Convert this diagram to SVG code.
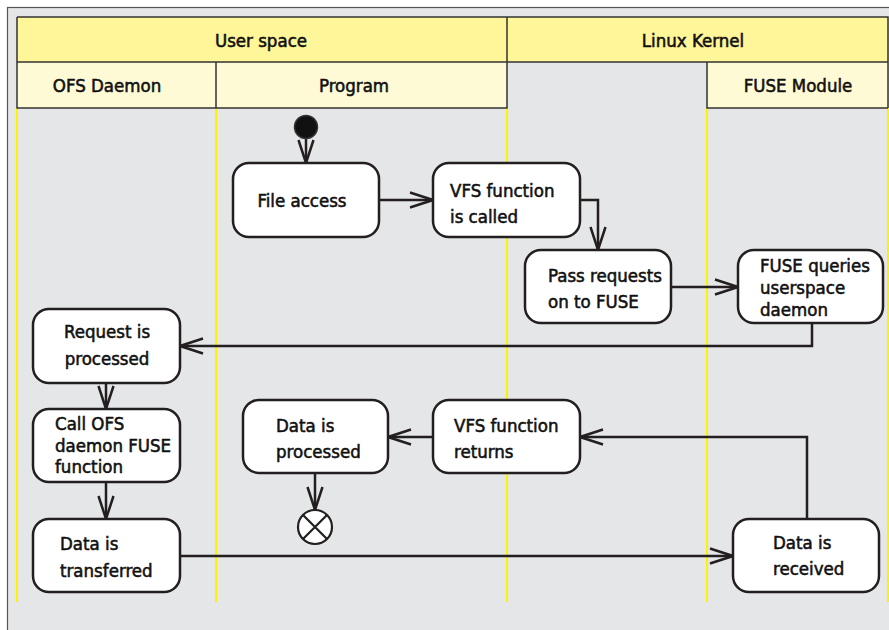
<svg xmlns="http://www.w3.org/2000/svg" width="889" height="630" viewBox="0 0 889 630">
<defs>
<marker id="arr" viewBox="0 0 26 18" refX="24" refY="9" markerWidth="26" markerHeight="18" markerUnits="userSpaceOnUse" orient="auto">
<path d="M1,1.5 L24,9 L1,16.5" fill="none" stroke="#231f20" stroke-width="2.5"/>
</marker>
<style>
.t{font-family:"DejaVu Sans Condensed","DejaVu Sans",sans-serif;font-stretch:condensed;font-size:18.5px;fill:#111;stroke:#111;stroke-width:0.55}
.h{font-family:"DejaVu Sans Condensed","DejaVu Sans",sans-serif;font-stretch:condensed;font-size:18.5px;fill:#111;stroke:#111;stroke-width:0.55;text-anchor:middle}
.m{text-anchor:middle}
.box{fill:#fff;stroke:#231f20;stroke-width:2.5}
.lane{stroke:#fff200;stroke-width:2}
.hl{stroke:#333;stroke-width:1.5;fill:none}
.c{fill:none;stroke:#231f20;stroke-width:2.5}
</style>
</defs>
<rect x="7.5" y="7.5" width="890" height="630" fill="#e5e6e8" stroke="#555" stroke-width="1.2"/>
<g id="lanes">
<line class="lane" x1="17" y1="108" x2="17" y2="602"/>
<line class="lane" x1="216" y1="108" x2="216" y2="602"/>
<line class="lane" x1="507" y1="108" x2="507" y2="602"/>
<line class="lane" x1="707" y1="108" x2="707" y2="602"/>
<line class="lane" x1="888" y1="108" x2="888" y2="602"/>
</g>
<g id="header">
<rect x="17" y="17" width="871" height="45" fill="#fff599"/>
<rect x="17" y="62" width="490" height="46" fill="#fffad6"/>
<rect x="707" y="62" width="181" height="46" fill="#fffad6"/>
<path class="hl" d="M17,17 H888 V108 M17,17 V108 H507 V62 M17,62 H888 M507,17 V62 M216,62 V108 M707,62 V108 H888"/>
<text class="h" x="261" y="47">User space</text>
<text class="h" x="693" y="47">Linux Kernel</text>
<text class="h" x="107" y="92">OFS Daemon</text>
<text class="h" x="354" y="92">Program</text>
<text class="h" x="798" y="92">FUSE Module</text>
</g>
<g id="connectors">
<line class="c" x1="306" y1="127" x2="306" y2="163" marker-end="url(#arr)"/>
<line class="c" x1="379" y1="200" x2="433" y2="200" marker-end="url(#arr)"/>
<polyline class="c" points="580,200 598,200 598,250" marker-end="url(#arr)"/>
<line class="c" x1="671" y1="287" x2="738" y2="287" marker-end="url(#arr)"/>
<polyline class="c" points="812,323 812,346 180,346" marker-end="url(#arr)"/>
<line class="c" x1="106" y1="383" x2="106" y2="409" marker-end="url(#arr)"/>
<line class="c" x1="106" y1="482" x2="106" y2="519" marker-end="url(#arr)"/>
<line class="c" x1="180" y1="556" x2="733" y2="556" marker-end="url(#arr)"/>
<polyline class="c" points="807,519 807,437 580,437" marker-end="url(#arr)"/>
<line class="c" x1="433" y1="437" x2="388" y2="437" marker-end="url(#arr)"/>
<line class="c" x1="315" y1="473" x2="315" y2="510" marker-end="url(#arr)"/>
</g>
<g id="start">
<circle cx="306" cy="127" r="11.5" fill="#111" stroke="#333" stroke-width="1.5"/>
</g>
<g id="file-access">
<rect class="box" x="233" y="163" width="146" height="74" rx="16"/>
<text class="t m" x="302" y="207">File access</text>
</g>
<g id="vfs-called">
<rect class="box" x="433" y="163" width="147" height="74" rx="16"/>
<text class="t" x="450" y="197">VFS function</text>
<text class="t" x="450" y="223">is called</text>
</g>
<g id="pass-requests">
<rect class="box" x="525" y="250" width="146" height="73" rx="16"/>
<text class="t" x="548" y="282">Pass requests</text>
<text class="t" x="548" y="308">on to FUSE</text>
</g>
<g id="fuse-queries">
<rect class="box" x="738" y="250" width="145" height="73" rx="16"/>
<text class="t" x="760" y="272">FUSE queries</text>
<text class="t" x="760" y="294">userspace</text>
<text class="t" x="760" y="316">daemon</text>
</g>
<g id="request-processed">
<rect class="box" x="33" y="309" width="147" height="74" rx="16"/>
<text class="t m" x="107" y="338">Request is</text>
<text class="t m" x="107" y="365">processed</text>
</g>
<g id="call-ofs">
<rect class="box" x="33" y="409" width="147" height="73" rx="16"/>
<text class="t" x="55" y="430">Call OFS</text>
<text class="t" x="55" y="452">daemon FUSE</text>
<text class="t" x="55" y="473">function</text>
</g>
<g id="data-transferred">
<rect class="box" x="33" y="519" width="147" height="73" rx="16"/>
<text class="t" x="60" y="550">Data is</text>
<text class="t" x="60" y="577">transferred</text>
</g>
<g id="data-received">
<rect class="box" x="733" y="519" width="146" height="73" rx="16"/>
<text class="t" x="773" y="549">Data is</text>
<text class="t" x="773" y="575">received</text>
</g>
<g id="vfs-returns">
<rect class="box" x="433" y="400" width="147" height="73" rx="16"/>
<text class="t" x="454" y="432">VFS function</text>
<text class="t" x="454" y="458">returns</text>
</g>
<g id="data-processed">
<rect class="box" x="243" y="400" width="145" height="73" rx="16"/>
<text class="t" x="276" y="432">Data is</text>
<text class="t" x="276" y="458">processed</text>
</g>
<g id="end">
<circle cx="315" cy="527" r="17" fill="#fff" stroke="#231f20" stroke-width="2.2"/>
<path d="M303,515 L327,539 M327,515 L303,539" stroke="#231f20" stroke-width="2.2"/>
</g>
</svg>
